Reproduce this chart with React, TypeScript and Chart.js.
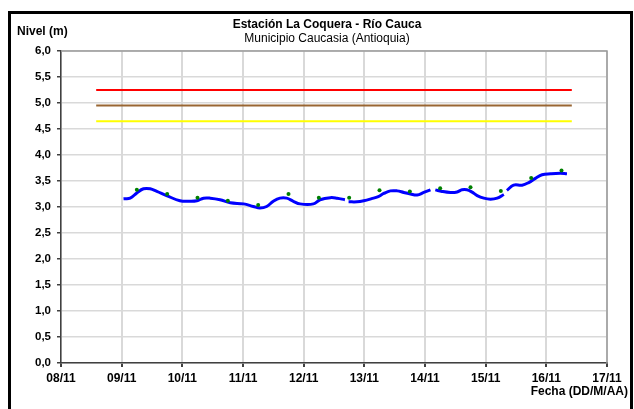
import React, { useEffect, useRef } from "react";
import { Chart, registerables } from "chart.js";

Chart.register(...registerables);

const dayLabels = ["08/11", "09/11", "10/11", "11/11", "12/11", "13/11", "14/11", "15/11", "16/11", "17/11"];

const yTickValues = [0, 0.5, 1, 1.5, 2, 2.5, 3, 3.5, 4, 4.5, 5, 5.5, 6];

// Level readings (days since 08/11 00:00); null = gap in record
const levelDays = [
  1.03, 1.14, 1.25, 1.36, 1.47, 1.58, 1.74, 1.96, 2.13, 2.24, 2.35, 2.46, 2.62, 2.79, 3.01, 3.17, 3.28, 3.39,
  3.5, 3.61, 3.72, 3.83, 3.94, 4.16, 4.27, 4.44, 4.55, 4.68, 4.71,
  4.74, 4.88, 4.99, 5.12, 5.23, 5.32, 5.43, 5.54, 5.65, 5.76, 5.87, 5.98, 6.09, 6.13,
  6.17, 6.28, 6.42, 6.53, 6.61, 6.69, 6.77, 6.86, 6.97, 7.08, 7.19, 7.3, 7.33,
  7.35, 7.46, 7.6, 7.71, 7.82, 7.93, 8.07, 8.23, 8.34,
];
const levelValues = [
  3.16, 3.17, 3.27, 3.35, 3.35, 3.3, 3.22, 3.12, 3.11, 3.12, 3.17, 3.17, 3.14, 3.08, 3.06, 3.01, 2.98, 3.01,
  3.11, 3.17, 3.17, 3.11, 3.06, 3.06, 3.14, 3.18, 3.17, 3.14, null,
  3.1, 3.1, 3.12, 3.16, 3.2, 3.26, 3.31, 3.31, 3.28, 3.25, 3.23, 3.28, 3.33, null,
  3.33, 3.3, 3.28, 3.29, 3.33, 3.33, 3.29, 3.22, 3.17, 3.15, 3.17, 3.24, null,
  3.32, 3.42, 3.42, 3.47, 3.55, 3.62, 3.64, 3.65, 3.64,
];

// Manual readings (green points)
const readingDays = [1.25, 1.75, 2.25, 2.75, 3.25, 3.75, 4.25, 4.75, 5.25, 5.75, 6.25, 6.75, 7.25, 7.75, 8.25];
const readingValues = [3.33, 3.25, 3.18, 3.12, 3.04, 3.25, 3.18, 3.18, 3.32, 3.3, 3.36, 3.38, 3.31, 3.56, 3.7];

// Alert thresholds
const thresholdSpan = [0.58, 8.42];
const alertRed = 5.25;
const alertOrange = 4.95;
const alertYellow = 4.65;

const titleText = "Estación La Coquera - Río Cauca";
const subtitleText = "Municipio Caucasia (Antioquia)";
const yAxisTitle = "Nivel (m)";
const xAxisTitle = "Fecha (DD/M/AA)";

const FONT = '"Liberation Sans", Arial, sans-serif';

const decorPlugin = {
  id: "decor",
  afterDraw(chart: any) {
    const { ctx, chartArea } = chart;
    ctx.save();
    // top/right plot border
    ctx.strokeStyle = "#9a9a9a";
    ctx.lineWidth = 1.5;
    ctx.beginPath();
    ctx.moveTo(chartArea.left, chartArea.top);
    ctx.lineTo(chartArea.right, chartArea.top);
    ctx.lineTo(chartArea.right, chartArea.bottom);
    ctx.stroke();
    // outer frame
    ctx.strokeStyle = "#000";
    ctx.lineWidth = 3;
    ctx.strokeRect(9.5, 12.5, 622, 420);
    // texts
    ctx.fillStyle = "#000";
    ctx.textBaseline = "middle";
    ctx.textAlign = "center";
    ctx.font = "bold 12px " + FONT;
    ctx.fillText(titleText, 327, 25);
    ctx.font = "12px " + FONT;
    ctx.fillText(subtitleText, 327, 39);
    ctx.textAlign = "left";
    ctx.font = "bold 12px " + FONT;
    ctx.fillText(yAxisTitle, 17, 32);
    ctx.textAlign = "right";
    ctx.fillText(xAxisTitle, 628, 392);
    ctx.restore();
  },
};

export default function App() {
  const ref = useRef<HTMLCanvasElement | null>(null);
  useEffect(() => {
    if (!ref.current) return;
    const toPts = (xs: number[], ys: (number | null)[]) => xs.map((x, i) => ({ x, y: ys[i] }));
    const hline = (v: number) => thresholdSpan.map((x) => ({ x, y: v }));
    const chart = new Chart(ref.current, {
      type: "line",
      data: {
        datasets: [
          {
            data: toPts(readingDays, readingValues),
            showLine: false,
            pointRadius: 2,
            pointBackgroundColor: "#008000",
            pointBorderWidth: 0,
            borderColor: "#008000",
          },
          {
            data: toPts(levelDays, levelValues),
            borderColor: "#0000ff",
            borderWidth: 3,
            pointRadius: 0,
            tension: 0.4,
            spanGaps: false,
          },
          { data: hline(alertRed), borderColor: "#ff0000", borderWidth: 2, pointRadius: 0 },
          { data: hline(alertOrange), borderColor: "#996633", borderWidth: 2, pointRadius: 0 },
          { data: hline(alertYellow), borderColor: "#ffff00", borderWidth: 2, pointRadius: 0 },
        ],
      } as any,
      options: {
        animation: false,
        responsive: false,
        devicePixelRatio: 1,
        layout: { padding: { left: 0, right: 27, top: 51, bottom: 0 } },
        plugins: { legend: { display: false }, tooltip: { enabled: false }, title: { display: false } },
        scales: {
          x: {
            type: "linear",
            min: 0,
            max: 9,
            afterFit: (s: any) => {
              s.height = 46;
            },
            afterBuildTicks: (s: any) => {
              s.ticks = dayLabels.map((_, i) => ({ value: i }));
            },
            ticks: {
              callback: (v: any) => dayLabels[Math.round(v)] ?? "",
              color: "#000",
              font: { family: FONT, size: 12, weight: "bold" },
              padding: 4,
              maxRotation: 0,
              autoSkip: false,
            },
            grid: { color: "#d9d9d9", lineWidth: 2, tickLength: 4, tickColor: "#404040" },
            border: { color: "#404040", width: 1.5 },
          },
          y: {
            min: 0,
            max: 6,
            afterFit: (s: any) => {
              s.width = 61;
            },
            afterBuildTicks: (s: any) => {
              s.ticks = yTickValues.map((v) => ({ value: v }));
            },
            ticks: {
              callback: (v: any) => Number(v).toFixed(1).replace(".", ","),
              color: "#000",
              font: { family: FONT, size: 11.5, weight: "bold" },
              padding: 6,
            },
            grid: { color: "#d9d9d9", lineWidth: 1.5, tickLength: 4, tickColor: "#404040" },
            border: { color: "#404040", width: 1.5 },
          },
        },
      } as any,
      plugins: [decorPlugin],
    });
    return () => chart.destroy();
  }, []);
  return (
    <div style={{ position: "absolute", left: 0, top: 0, width: 634, height: 409, background: "#fff" }}>
      <canvas ref={ref} width={634} height={409} style={{ display: "block", width: 634, height: 409 }} />
    </div>
  );
}
